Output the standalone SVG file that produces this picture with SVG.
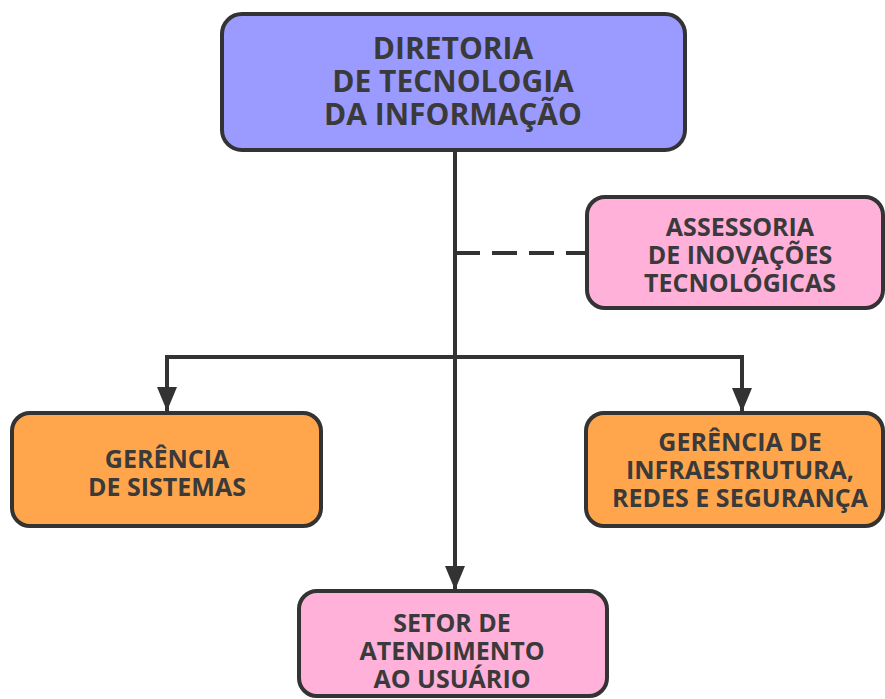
<svg xmlns="http://www.w3.org/2000/svg" width="885" height="699" viewBox="0 0 885 699">
<style>
.box{stroke:#333;stroke-width:4;}
.blue{fill:#9b9bff;}
.pink{fill:#ffb1da;}
.orange{fill:#ffa64d;}
.t{font-family:"Open Sans","Liberation Sans",sans-serif;font-weight:bold;fill:#3a3a3a;text-anchor:middle;}
.big{font-size:30px;}
.sm{font-size:25px;}
.ln{stroke:#333;stroke-width:4;fill:none;}
</style>
<defs>
<marker id="ah" viewBox="0 0 24 20" refX="24" refY="10" markerWidth="24" markerHeight="20" markerUnits="userSpaceOnUse" orient="auto">
<path d="M0,0 L24,10 L0,20 Z" fill="#333"/>
</marker>
</defs>
<g id="connectors">
<line class="ln" x1="455" y1="150" x2="455" y2="590" marker-end="url(#ah)"/>
<line class="ln" x1="455" y1="253" x2="587" y2="253" stroke-dasharray="25,12"/>
<polyline class="ln" points="167,412 167,357 742,357 742,412" marker-end="url(#ah)"/>
<line class="ln" x1="167" y1="357" x2="167" y2="411" marker-end="url(#ah)"/>
</g>
<g id="diretoria">
<rect class="box blue" x="222" y="14" width="463" height="136" rx="20"/>
<text class="t big" x="453" y="59">DIRETORIA</text>
<text class="t big" x="453" y="92">DE TECNOLOGIA</text>
<text class="t big" x="453" y="125">DA INFORMAÇÃO</text>
</g>
<g id="assessoria">
<rect class="box pink" x="587" y="197" width="296" height="111" rx="18"/>
<text class="t sm" x="740" y="236">ASSESSORIA</text>
<text class="t sm" x="740" y="264">DE INOVAÇÕES</text>
<text class="t sm" x="740" y="292">TECNOLÓGICAS</text>
</g>
<g id="sistemas">
<rect class="box orange" x="12" y="413" width="309" height="113" rx="18"/>
<text class="t sm" x="167" y="468">GERÊNCIA</text>
<text class="t sm" x="167" y="496">DE SISTEMAS</text>
</g>
<g id="infra">
<rect class="box orange" x="586" y="413" width="297" height="113" rx="18"/>
<text class="t sm" x="740" y="451">GERÊNCIA DE</text>
<text class="t sm" x="740" y="479">INFRAESTRUTURA,</text>
<text class="t sm" x="740" y="507">REDES E SEGURANÇA</text>
</g>
<g id="atendimento">
<rect class="box pink" x="299" y="591" width="308" height="105" rx="18"/>
<text class="t sm" x="452" y="632">SETOR DE</text>
<text class="t sm" x="452" y="660">ATENDIMENTO</text>
<text class="t sm" x="452" y="688">AO USUÁRIO</text>
</g>
</svg>
